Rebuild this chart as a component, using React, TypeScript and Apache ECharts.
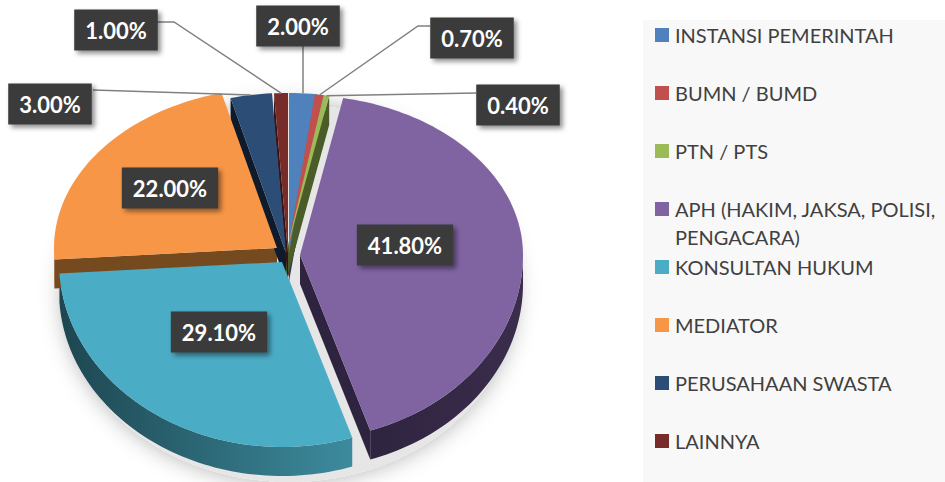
import React, { useEffect, useRef } from 'react';
import * as echarts from 'echarts';

const CATEGORIES = [
  'INSTANSI PEMERINTAH',
  'BUMN / BUMD',
  'PTN / PTS',
  'APH (HAKIM, JAKSA, POLISI, PENGACARA)',
  'KONSULTAN HUKUM',
  'MEDIATOR',
  'PERUSAHAAN SWASTA',
  'LAINNYA',
];
const VALUES = [2.0, 0.7, 0.4, 41.8, 29.1, 22.0, 3.0, 1.0];

const COLORS = ['#4F81BD', '#C0504D', '#9BBB59', '#8064A2', '#4BACC6', '#F79646', '#2C4D75', '#772C2A'];
const SIDE_LIGHT = ['#3a6192', '#8f3a38', '#6f8a3c', '#3b2d4c', '#3d8b9e', '#8a5424', '#1b2d47', '#561f1e'];
const SIDE_DARK = ['#263f5f', '#5e2422', '#4a5c27', '#2f2440', '#1d4650', '#764a1f', '#0f1a2a', '#3a1413'];

// layout
const CX = 289;
const CY = 258;
const RX = 223;
const RY_BACK = 160;
const RY_FRONT = 185;
const DEPTH = 29;
// per-slice displacement (explosion) on screen
const EXPLODE: [number, number][] = [
  [0, -5], [-2, -5], [-3, -5], [11, -3], [-7, 4], [-12, -10], [-3, -5], [-1, -5],
];
// label box centres and leader start points (null = inside label)
const LABEL_POS: [number, number][] = [
  [298, 26], [472, 38], [518, 105], [405, 245], [219, 332], [170, 188], [50, 104], [116, 30],
];
const LEADER_START: ([number, number][] | null)[] = [
  [[-1, 46]],
  [[430, 26], [418, 26]],
  [[476, 93]],
  null,
  null,
  null,
  [[93, 90]],
  [[153, 22], [174, 22]],
];

const TOTAL = VALUES.reduce((a, b) => a + b, 0);
const STARTS: number[] = [];
{
  let acc = 0;
  VALUES.forEach((v) => {
    STARTS.push(acc);
    acc += v;
  });
}

function angles(i: number, v: number): [number, number] {
  const a0 = (STARTS[i] / TOTAL) * Math.PI * 2;
  const a1 = ((STARTS[i] + v) / TOTAL) * Math.PI * 2;
  return [a0, a1];
}
function pt(phi: number, r: number, off: [number, number], z: number): [number, number] {
  const u = r * Math.sin(phi);
  const w = -r * Math.cos(phi);
  return [CX + off[0] + RX * u, CY + off[1] + (w > 0 ? RY_FRONT : RY_BACK) * w + z];
}
function arc(a0: number, a1: number, off: [number, number], z: number) {
  const n = Math.max(2, Math.ceil((a1 - a0) / (Math.PI / 120)));
  const pts: [number, number][] = [];
  for (let k = 0; k <= n; k++) pts.push(pt(a0 + ((a1 - a0) * k) / n, 1, off, z));
  return pts;
}

const seriesData = VALUES.map((v, i) => ({ name: CATEGORIES[i], value: [v, i] }));

function renderWalls(params: any, api: any) {
  const i = params.dataIndex;
  const v = api.value(0);
  const [a0, a1] = angles(i, v);
  const off = EXPLODE[i];
  const children: any[] = [];
  const c0 = pt(0, 0, off, 0);
  const c1 = pt(0, 0, off, DEPTH);
  if (Math.cos(a0 - Math.PI / 2) < -0.01) {
    children.push({
      type: 'polygon',
      shape: { points: [c0, pt(a0, 1, off, 0), pt(a0, 1, off, DEPTH), c1] },
      style: { fill: SIDE_DARK[i] },
    });
  }
  if (Math.cos(a1 + Math.PI / 2) < -0.01) {
    children.push({
      type: 'polygon',
      shape: { points: [c0, pt(a1, 1, off, 0), pt(a1, 1, off, DEPTH), c1] },
      style: { fill: SIDE_DARK[i] },
    });
  }
  const lo = Math.max(a0, Math.PI / 2);
  const hi = Math.min(a1, (Math.PI * 3) / 2);
  if (hi > lo) {
    const top = arc(lo, hi, off, 0);
    const bottom = arc(lo, hi, off, DEPTH).reverse();
    children.push({
      type: 'polygon',
      shape: { points: top.concat(bottom) },
      style: {
        fill: new echarts.graphic.LinearGradient(1, 0, 0, 0, [
          { offset: 0, color: SIDE_LIGHT[i] },
          { offset: 1, color: SIDE_DARK[i] },
        ]),
      },
    });
  }
  return { type: 'group', children };
}

function renderTops(params: any, api: any) {
  const i = params.dataIndex;
  const v = api.value(0);
  const [a0, a1] = angles(i, v);
  const off = EXPLODE[i];
  const pts = [pt(0, 0, off, 0)].concat(arc(a0, a1, off, 0));
  return {
    type: 'polygon',
    shape: { points: pts },
    style: { fill: COLORS[i] },
  };
}

function renderLabels(params: any, api: any) {
  const i = params.dataIndex;
  const v = api.value(0);
  const [a0, a1] = angles(i, v);
  const off = EXPLODE[i];
  const m = (a0 + a1) / 2;
  const children: any[] = [];
  const lead = LEADER_START[i];
  if (lead) {
    const rim = pt(m, 1, off, 0);
    const pts = lead.map((p) => [p[0] < 0 ? rim[0] : p[0], p[1]]);
    pts.push(rim);
    children.push({
      type: 'polyline',
      shape: { points: pts },
      style: { stroke: '#808080', lineWidth: 1.5, fill: null },
    });
  }
  const [lx, ly] = LABEL_POS[i];
  children.push({
    type: 'text',
    x: lx,
    y: ly,
    style: {
      text: v.toFixed(2) + '%',
      fill: '#ffffff',
      fontSize: 22,
      fontWeight: 'bold',
      fontFamily: 'Lato',
      align: 'center',
      verticalAlign: 'middle',
      backgroundColor: '#3a3a3a',
      padding: [10, 11, 9, 11],
      shadowBlur: 5,
      shadowColor: 'rgba(0,0,0,0.45)',
      shadowOffsetX: 3,
      shadowOffsetY: 3,
    },
  });
  return { type: 'group', children };
}

const LEGEND_X = 655;
const LEGEND_TOP = 35;
const LEGEND_STEP = 58;

function buildLegend() {
  const els: any[] = [
    { type: 'rect', shape: { x: 643, y: 20, width: 302, height: 462 }, style: { fill: '#F8F8F8' }, z: 0 },
  ];
  CATEGORIES.forEach((c, i) => {
    const y = LEGEND_TOP + LEGEND_STEP * i;
    els.push({ type: 'rect', shape: { x: LEGEND_X, y: y - 7, width: 14, height: 14 }, style: { fill: COLORS[i] }, z: 1 });
    els.push({
      type: 'text',
      x: LEGEND_X + 20,
      y: y - 14,
      z: 1,
      style: {
        text: c,
        fill: '#404040',
        fontSize: 20,
        fontFamily: 'Lato',
        verticalAlign: 'top',
        lineHeight: 28,
        width: 268,
        overflow: 'break',
      },
    });
  });
  return els;
}

export default function App() {
  const ref = useRef<HTMLDivElement>(null);
  useEffect(() => {
    const chart = echarts.init(ref.current!, null, { renderer: 'svg' });
    chart.setOption({
      animation: false,
      backgroundColor: '#ffffff',
      graphic: [
        {
          type: 'ellipse',
          shape: {
            cx: CX,
            cy: CY + (RY_FRONT - RY_BACK) / 2 + DEPTH / 2 + 8,
            rx: RX + 4,
            ry: (RY_FRONT + RY_BACK) / 2 + DEPTH / 2 + 2,
          },
          style: { fill: '#e6e6e6', shadowBlur: 22, shadowColor: 'rgba(0,0,0,0.3)' },
          z: -1,
        },
        ...buildLegend(),
      ],
      series: [
        { type: 'custom', coordinateSystem: 'none', renderItem: renderWalls, data: seriesData, z: 1, silent: true },
        { type: 'custom', coordinateSystem: 'none', renderItem: renderTops, data: seriesData, z: 2, silent: true },
        { type: 'custom', coordinateSystem: 'none', renderItem: renderLabels, data: seriesData, z: 3, silent: true },
      ],
    });
    return () => chart.dispose();
  }, []);
  return (
    <div
      ref={ref}
      style={{ position: 'absolute', left: 0, top: 0, width: 945, height: 482, background: '#fff' }}
    />
  );
}
